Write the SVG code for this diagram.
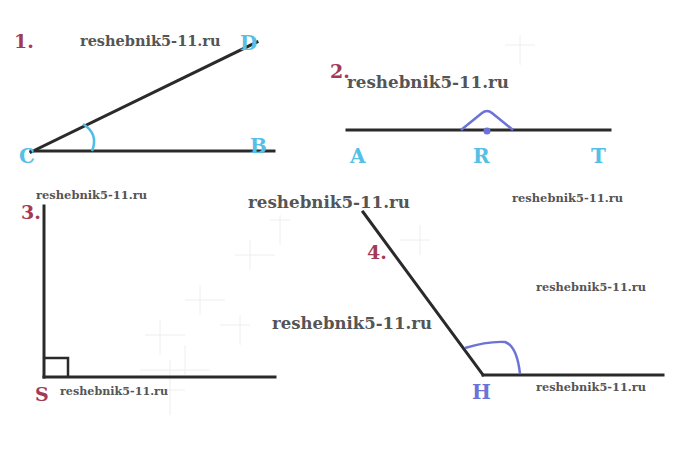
<svg xmlns="http://www.w3.org/2000/svg" width="679" height="467" viewBox="0 0 679 467">
<style>
.ln{stroke:#2a2a2a;stroke-width:3;fill:none;stroke-linecap:square}
.arc1{stroke:#4fbde6;stroke-width:2.5;fill:none}
.arcb{stroke:#6b73d6;stroke-width:2.5;fill:none}
.wm{font-family:"DejaVu Serif","Liberation Serif",serif;font-weight:bold;fill:#555}
.wmL{font-size:17px}
.wmS{font-size:11px}
.num{font-family:"DejaVu Serif","Liberation Serif",serif;font-weight:bold;font-size:19px;fill:#a23a55}
.lc{font-family:"DejaVu Serif","Liberation Serif",serif;font-weight:bold;font-size:20px;fill:#55c0e6}
.lb{font-family:"DejaVu Serif","Liberation Serif",serif;font-weight:bold;font-size:20px;fill:#6b73d6}
.grid{stroke:#eeeeee;stroke-width:1;fill:none}
</style>
<rect width="679" height="467" fill="#fff"/>
<g id="background-grid">
<path class="grid" d="M505 45 h30 M520 35 v30 M235 255 h40 M250 240 v30 M270 220 h20 M280 215 v30 M185 300 h40 M200 285 v30 M145 335 h40 M160 320 v35 M185 345 v30 M220 325 h30 M240 315 v30 M140 370 h70 M170 360 v55 M155 390 h30 M400 240 h30 M420 225 v30"/>
</g>
<g id="figure1">
<line class="ln" x1="31" y1="152" x2="257" y2="42"/>
<line class="ln" x1="31" y1="151" x2="274" y2="151"/>
<path class="arc1" d="M83 124 Q99 134 92 151"/>
<text class="num" x="14" y="48">1.</text>
<text class="lc" x="19" y="163">C</text>
<text class="lc" x="240" y="50">D</text>
<text class="lc" x="250" y="153">B</text>
</g>
<g id="figure2">
<line class="ln" x1="347" y1="130" x2="610" y2="130"/>
<path class="arcb" d="M461 130 L482 113 Q487 109 492 113 L513 130"/>
<circle cx="487" cy="131" r="3.5" fill="#6b73d6"/>
<text class="num" x="330" y="78">2.</text>
<text class="lc" x="350" y="163">A</text>
<text class="lc" x="473" y="163">R</text>
<text class="lc" x="591" y="163">T</text>
</g>
<g id="figure3">
<line class="ln" x1="44" y1="206" x2="44" y2="377"/>
<line class="ln" x1="44" y1="377" x2="275" y2="377"/>
<path d="M44 358 H68 V377" stroke="#2a2a2a" stroke-width="2.5" fill="none"/>
<text class="num" x="21" y="219">3.</text>
<text class="num" x="35" y="401">S</text>
</g>
<g id="figure4">
<line class="ln" x1="363" y1="212" x2="483" y2="375"/>
<line class="ln" x1="483" y1="375" x2="663" y2="375"/>
<path class="arcb" d="M465 348 Q488 341 505 342 Q517 346 520 374"/>
<text class="num" x="367" y="259">4.</text>
<text class="lb" x="472" y="399">H</text>
</g>
<g id="watermarks">
<text class="wm" x="80" y="46" font-size="14.5">reshebnik5-11.ru</text>
<text class="wm wmL" x="347" y="88" textLength="162" lengthAdjust="spacingAndGlyphs">reshebnik5-11.ru</text>
<text class="wm wmL" x="248" y="208" textLength="162" lengthAdjust="spacingAndGlyphs">reshebnik5-11.ru</text>
<text class="wm wmL" x="272" y="329" textLength="160" lengthAdjust="spacingAndGlyphs">reshebnik5-11.ru</text>
<text class="wm wmS" x="36" y="199" textLength="111" lengthAdjust="spacingAndGlyphs">reshebnik5-11.ru</text>
<text class="wm wmS" x="60" y="395" textLength="108" lengthAdjust="spacingAndGlyphs">reshebnik5-11.ru</text>
<text class="wm wmS" x="512" y="202" textLength="111" lengthAdjust="spacingAndGlyphs">reshebnik5-11.ru</text>
<text class="wm wmS" x="536" y="291" textLength="110" lengthAdjust="spacingAndGlyphs">reshebnik5-11.ru</text>
<text class="wm wmS" x="536" y="391" textLength="110" lengthAdjust="spacingAndGlyphs">reshebnik5-11.ru</text>
</g>
</svg>
